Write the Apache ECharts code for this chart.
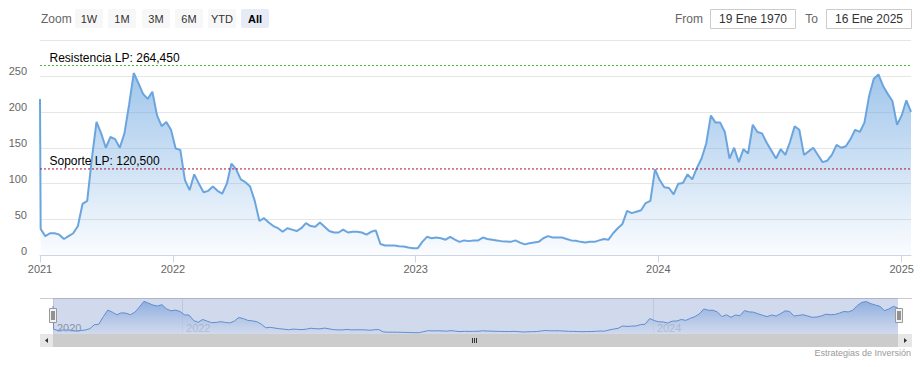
<!DOCTYPE html>
<html><head><meta charset="utf-8">
<script src="https://cdn.jsdelivr.net/npm/echarts@6/dist/echarts.min.js"></script>
<style>html,body{margin:0;padding:0;background:#fff}#c{width:922px;height:367px}</style>
</head><body><div id="c"></div>
<script>
// ---- data ----
const firstPrint = ['2021-06-15', 218];
const weekStart = [2021, 5, 16]; // weekly closes from 16 Jun 2021
const weeklyPrices = [
  37,27,31,31,29,23,27,31,41,72,
  76,135,186,170,150,165,162,150,170,210,
  254,240,225,218,228,195,180,186,175,149,
  147,105,91,113,100,88,90,96,90,86,
  100,128,120,106,102,96,76,48,52,46,
  41,38,33,38,36,34,38,45,41,40,
  46,40,34,32,32,36,32,33,33,32,
  29,33,35,16,14,14,14,13,12.5,11,
  10,10,19,26,24,25,24,22,26,22,
  19,21,20,21,21,25,23,22,21,20,
  19.5,19,21,18,15.5,17,18,19,24,27,
  25,25,25,23,21,20.5,19,18,19,19,
  21,23,22,31,38,44,62,59,61,63,
  73,76,120,105,95,94,85,100,101,113,
  106,122,135,156,195,185,185,172,135,150,
  130,148,142,182,172,170,157,146,135,148,
  140,158,180,175,140,145,150,140,130,132,
  140,154,150,152,162,175,172,185,222,246,
  252,236,225,215,182,195,216,200
];
const resistance = 264.45;
const support = 120.5;
const yTickStep = 50;
const yMax = 300;
const xTickDates = ['2021-06-15','2022-01-01','2023-01-01','2024-01-01','2025-01-01'];
const xTickLabels = ['2021','2022','2023','2024','2025'];
const navTickDates = ['2021-06-15','2022-01-01','2024-01-01'];
const navTickLabels = ['2020','2022','2024'];
const zoomButtons = ['1W','1M','3M','6M','YTD','All'];
const fromText = '19 Ene 1970';
const toText = '16 Ene 2025';
const creditText = 'Estrategias de Inversión';

// ---- build ----
const T = s => { const p = s.split('-').map(Number); return new Date(p[0], p[1] - 1, p[2]).getTime(); };
const weeklyTs = weeklyPrices.map((_, i) => new Date(weekStart[0], weekStart[1], weekStart[2] + 7 * i).getTime());
const seriesData = [[T(firstPrint[0]), firstPrint[1]]].concat(weeklyTs.map((t, i) => [t, weeklyPrices[i]]));
const xMin = T(firstPrint[0]);
const xMax = weeklyTs[weeklyTs.length - 1];
const xTickTs = xTickDates.map(T);
const navTickTs = navTickDates.map(T);
const es = v => v.toFixed(3).replace('.', ',');
const FF = '"Liberation Sans", Arial, sans-serif';

const chart = echarts.init(document.getElementById('c'), null, {renderer: 'svg', width: 922, height: 367});

const TXT = (text, x, y, o) => Object.assign({type: 'text', style: Object.assign({text, x, y, fill: '#666', fontSize: 12, fontFamily: FF, textVerticalAlign: 'middle', verticalAlign: 'middle'}, o || {})});
const graphics = [];
graphics.push(TXT('Zoom', 41, 19));
const btnX = [75, 108, 142, 175, 208, 241];
zoomButtons.forEach((b, i) => {
  const sel = b === 'All';
  graphics.push({type: 'rect', shape: {x: btnX[i], y: 9, width: 28, height: 19, r: 2}, style: {fill: sel ? '#e6ebf5' : '#f7f7f7'}});
  graphics.push(TXT(b, btnX[i] + 14, 19, {fill: sel ? '#000' : '#333', fontSize: 11, fontWeight: sel ? 'bold' : 'normal', textAlign: 'center', align: 'center'}));
});
graphics.push(TXT('From', 703, 19, {textAlign: 'right', align: 'right'}));
graphics.push({type: 'rect', shape: {x: 710.5, y: 9.5, width: 85, height: 19}, style: {fill: '#fff', stroke: '#cccccc', lineWidth: 1}});
graphics.push(TXT(fromText, 753, 19, {fill: '#333', textAlign: 'center', align: 'center'}));
graphics.push(TXT('To', 818, 19, {textAlign: 'right', align: 'right'}));
graphics.push({type: 'rect', shape: {x: 826.5, y: 9.5, width: 85, height: 19}, style: {fill: '#fff', stroke: '#cccccc', lineWidth: 1}});
graphics.push(TXT(toText, 869, 19, {fill: '#333', textAlign: 'center', align: 'center'}));
// navigator outline + mask
graphics.push({type: 'line', z: 90, shape: {x1: 40, y1: 298.5, x2: 912, y2: 298.5}, style: {stroke: '#cccccc', lineWidth: 1}});
graphics.push({type: 'rect', z: 100, shape: {x: 53, y: 298, width: 845, height: 36}, style: {fill: 'rgba(102,133,194,0.3)'}});
[49.5, 895.5].forEach(hx => {
  graphics.push({type: 'rect', z: 110, shape: {x: hx, y: 308.5, width: 7, height: 14}, style: {fill: '#f2f2f2', stroke: '#999', lineWidth: 1}});
  graphics.push({type: 'line', z: 111, shape: {x1: hx + 2.5, y1: 311, x2: hx + 2.5, y2: 320}, style: {stroke: '#333', lineWidth: 1}});
  graphics.push({type: 'line', z: 111, shape: {x1: hx + 4.5, y1: 311, x2: hx + 4.5, y2: 320}, style: {stroke: '#333', lineWidth: 1}});
});
// scrollbar
graphics.push({type: 'rect', z: 100, shape: {x: 40, y: 334, width: 872, height: 13}, style: {fill: '#f2f2f2'}});
graphics.push({type: 'rect', z: 101, shape: {x: 53, y: 334, width: 845, height: 13}, style: {fill: '#cccccc'}});
graphics.push({type: 'rect', z: 101, shape: {x: 40, y: 334, width: 13, height: 13}, style: {fill: '#e6e6e6'}});
graphics.push({type: 'rect', z: 101, shape: {x: 898, y: 334, width: 14, height: 13}, style: {fill: '#e6e6e6'}});
graphics.push({type: 'polygon', z: 102, shape: {points: [[45, 340.5], [48, 338], [48, 343]]}, style: {fill: '#333'}});
graphics.push({type: 'polygon', z: 102, shape: {points: [[907, 340.5], [904, 338], [904, 343]]}, style: {fill: '#333'}});
[472.5, 474.5, 476.5].forEach(gx => graphics.push({type: 'line', z: 102, shape: {x1: gx, y1: 338, x2: gx, y2: 343}, style: {stroke: '#333', lineWidth: 1}}));
graphics.push(TXT(creditText, 911, 353, {fill: '#999', fontSize: 9, textAlign: 'right', align: 'right'}));

// horizontal level line drawn as its own two-point series, labelled at its start
const levelSeries = (name, value, color) => ({
  type: 'line', name, xAxisIndex: 0, yAxisIndex: 0, silent: true, z: 5,
  showSymbol: true, symbol: 'circle', symbolSize: 1,
  itemStyle: {color: 'rgba(0,0,0,0)', borderWidth: 0},
  lineStyle: {color, type: [2, 2], width: 1, opacity: 1},
  emphasis: {disabled: true},
  data: [
    {value: [xMin, value], label: {show: true, position: [10, -13], color: '#000', fontSize: 12, fontFamily: FF, formatter: name + ': ' + es(value)}},
    {value: [xMax, value], label: {show: false}}
  ]
});

const option = {
  animation: false,
  textStyle: {fontFamily: FF},
  grid: [
    {left: 40, right: 11, top: 40, height: 215.5, containLabel: false},
    {left: 53, right: 24, top: 298, height: 36, containLabel: false}
  ],
  xAxis: [
    {
      type: 'value', gridIndex: 0, min: xMin, max: xMax,
      axisLine: {show: true, onZero: false, lineStyle: {color: '#ccd6eb'}},
      axisTick: {show: true, length: 7, customValues: xTickTs, lineStyle: {color: '#ccd6eb'}},
      axisLabel: {customValues: xTickTs, formatter: v => { const i = xTickTs.indexOf(v); return i >= 0 ? xTickLabels[i] : ''; }, color: '#666', fontSize: 11, margin: 8, showMinLabel: true, showMaxLabel: true, hideOverlap: false},
      splitLine: {show: false}
    },
    {
      type: 'value', gridIndex: 1, min: xMin, max: xMax,
      axisLine: {show: false, onZero: false},
      axisTick: {show: false, customValues: navTickTs},
      axisLabel: {inside: true, customValues: navTickTs, formatter: v => { const i = navTickTs.indexOf(v); return i >= 0 ? navTickLabels[i] : ''; }, color: '#999', fontSize: 11, margin: 1, align: 'left', padding: [0, 0, 0, 4], showMinLabel: true, hideOverlap: false},
      splitLine: {show: true, lineStyle: {color: '#e6e6e6', width: 1}}
    }
  ],
  yAxis: [
    {
      type: 'value', gridIndex: 0, min: 0, max: yMax, interval: yTickStep,
      axisLine: {show: false}, axisTick: {show: false},
      axisLabel: {formatter: v => (v >= yMax ? '' : String(v)), color: '#666', fontSize: 11, margin: 13, verticalAlign: 'bottom', lineHeight: 10},
      splitLine: {lineStyle: {color: '#e6e6e6', width: 1}}
    },
    {type: 'value', gridIndex: 1, min: 0, max: 280, show: false, splitLine: {show: false}}
  ],
  series: [
    {
      type: 'line', xAxisIndex: 0, yAxisIndex: 0, data: seriesData, showSymbol: false, symbol: 'none',
      lineStyle: {color: '#6ba5df', width: 2},
      itemStyle: {color: '#6ba5df'},
      areaStyle: {color: {type: 'linear', x: 0, y: 0, x2: 0, y2: 1, colorStops: [
        {offset: 0, color: 'rgba(106,165,224,0.9)'},
        {offset: 1, color: 'rgba(106,165,224,0.04)'}
      ]}}
    },
    levelSeries('Resistencia LP', resistance, '#4caf3c'),
    levelSeries('Soporte LP', support, '#a8102e'),
    {
      type: 'line', xAxisIndex: 1, yAxisIndex: 1, data: seriesData, showSymbol: false, symbol: 'none',
      lineStyle: {color: '#5f8fd4', width: 1},
      areaStyle: {color: {type: 'linear', x: 0, y: 0, x2: 0, y2: 1, colorStops: [
        {offset: 0, color: 'rgba(120,168,228,1)'},
        {offset: 1, color: 'rgba(255,255,255,0.9)'}
      ]}}
    }
  ],
  graphic: graphics
};
chart.setOption(option);
</script>
</body></html>
